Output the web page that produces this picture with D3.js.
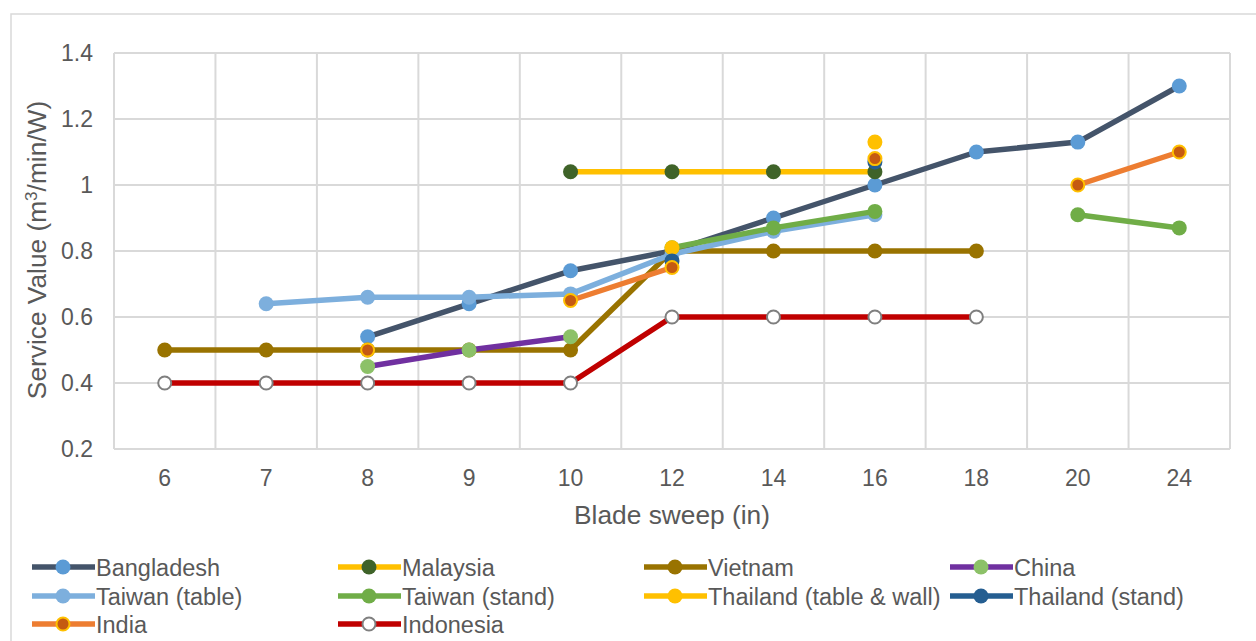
<!DOCTYPE html>
<html>
<head>
<meta charset="utf-8">
<script src="https://cdn.jsdelivr.net/npm/d3@7/dist/d3.min.js"></script>
<style>
  html, body { margin: 0; padding: 0; background: #ffffff; }
  svg { display: block; font-family: "Liberation Sans", Arial, sans-serif; }
</style>
</head>
<body>
<svg id="chart" width="1256" height="641"></svg>
<script>
// ---- data ----
const categories = ["6", "7", "8", "9", "10", "12", "14", "16", "18", "20", "24"];
const yTicks = [0.2, 0.4, 0.6, 0.8, 1.0, 1.2, 1.4];
const yTickLabels = ["0.2", "0.4", "0.6", "0.8", "1", "1.2", "1.4"];

const bangladesh    = [null, null, 0.54, 0.64, 0.74, 0.80, 0.90, 1.00, 1.10, 1.13, 1.30];
const malaysia      = [null, null, null, null, 1.04, 1.04, 1.04, 1.04, null, null, null];
const vietnam       = [0.50, 0.50, 0.50, 0.50, 0.50, 0.80, 0.80, 0.80, 0.80, null, null];
const china         = [null, null, 0.45, 0.50, 0.54, null, null, null, null, null, null];
const taiwanTable   = [null, 0.64, 0.66, 0.66, 0.67, 0.79, 0.86, 0.91, null, null, null];
const taiwanStand   = [null, null, null, null, null, 0.81, 0.87, 0.92, null, 0.91, 0.87];
const thailandTW    = [null, null, null, null, null, 0.81, null, 1.13, null, null, null];
const thailandStand = [null, null, null, null, null, 0.77, null, 1.07, null, null, null];
const india         = [null, null, 0.50, null, 0.65, 0.75, null, 1.08, null, 1.00, 1.10];
const indonesia     = [0.40, 0.40, 0.40, 0.40, 0.40, 0.60, 0.60, 0.60, 0.60, null, null];

const seriesNames = ["Bangladesh", "Malaysia", "Vietnam", "China", "Taiwan (table)",
  "Taiwan (stand)", "Thailand (table & wall)", "Thailand (stand)", "India", "Indonesia"];
const seriesValues = [bangladesh, malaysia, vietnam, china, taiwanTable,
  taiwanStand, thailandTW, thailandStand, india, indonesia];

// ---- styles ----
const styles = [
  { line: "#44546A", fill: "#5B9BD5", stroke: "#5B9BD5" },
  { line: "#FFC000", fill: "#3F6329", stroke: "#3F6329" },
  { line: "#997300", fill: "#997300", stroke: "#997300" },
  { line: "#7030A0", fill: "#8CC168", stroke: "#8CC168" },
  { line: "#7DAFDD", fill: "#7DAFDD", stroke: "#7DAFDD" },
  { line: "#70AD47", fill: "#70AD47", stroke: "#70AD47" },
  { line: "#FFC000", fill: "#FFC000", stroke: "#FFC000" },
  { line: "#255E91", fill: "#255E91", stroke: "#255E91" },
  { line: "#ED7D31", fill: "#C55A11", stroke: "#FFC000" },
  { line: "#C00000", fill: "#FFFFFF", stroke: "#7F7F7F" }
];

const W = 1256, H = 641;
const margin = { left: 114, right: 26, top: 53, bottom: 192 };
const textColor = "#595959";
const gridColor = "#D9D9D9";
const tickFont = 23, titleFont = 26.3, legendFont = 23.5;

const svg = d3.select("#chart");

// outer chart border
svg.append("rect")
  .attr("x", 11).attr("y", 14).attr("width", 1300).attr("height", 700)
  .attr("fill", "#fff").attr("stroke", gridColor).attr("stroke-width", 1.5);

const x = d3.scaleBand().domain(categories)
  .range([margin.left, W - margin.right]).padding(0);
const y = d3.scaleLinear().domain([0.2, 1.4])
  .range([H - margin.bottom, margin.top]);

// grid: horizontal
const g = svg.append("g");
g.selectAll("line.h").data(yTicks).enter().append("line")
  .attr("x1", margin.left).attr("x2", W - margin.right)
  .attr("y1", d => y(d)).attr("y2", d => y(d))
  .attr("stroke", gridColor).attr("stroke-width", 2);
// grid: vertical at category boundaries
const bounds = categories.map(c => x(c)).concat([x(categories[categories.length - 1]) + x.bandwidth()]);
g.selectAll("line.v").data(bounds).enter().append("line")
  .attr("x1", d => d).attr("x2", d => d)
  .attr("y1", margin.top).attr("y2", H - margin.bottom)
  .attr("stroke", gridColor).attr("stroke-width", 2);

// y tick labels
svg.append("g").selectAll("text").data(yTicks).enter().append("text")
  .attr("x", 93).attr("y", d => y(d) + 8)
  .attr("text-anchor", "end")
  .attr("font-size", tickFont).attr("fill", textColor)
  .text((d, i) => yTickLabels[i]);

// x tick labels
svg.append("g").selectAll("text").data(categories).enter().append("text")
  .attr("x", d => x(d) + x.bandwidth() / 2).attr("y", H - margin.bottom + 37)
  .attr("text-anchor", "middle")
  .attr("font-size", tickFont).attr("fill", textColor)
  .text(d => d);

// axis titles
svg.append("text")
  .attr("x", (margin.left + W - margin.right) / 2).attr("y", 524)
  .attr("text-anchor", "middle").attr("font-size", titleFont).attr("fill", textColor)
  .text("Blade sweep (in)");

const yt = svg.append("text")
  .attr("transform", `translate(46,250) rotate(-90)`)
  .attr("text-anchor", "middle").attr("font-size", titleFont).attr("fill", textColor);
yt.append("tspan").text("Service Value (m");
yt.append("tspan").attr("baseline-shift", "super").attr("font-size", 17).text("3");
yt.append("tspan").text("/min/W)");

// series
const line = d3.line()
  .defined(d => d.v !== null)
  .x(d => x(d.c) + x.bandwidth() / 2)
  .y(d => y(d.v));

const plot = svg.append("g");
seriesValues.forEach((vals, si) => {
  const st = styles[si];
  const pts = categories.map((c, i) => ({ c: c, v: vals[i] }));
  plot.append("path")
    .attr("d", line(pts))
    .attr("fill", "none").attr("stroke", st.line)
    .attr("stroke-width", 5.5).attr("stroke-linejoin", "round");
  plot.selectAll(null).data(pts.filter(d => d.v !== null)).enter().append("circle")
    .attr("cx", d => x(d.c) + x.bandwidth() / 2)
    .attr("cy", d => y(d.v))
    .attr("r", (st.stroke !== st.fill) ? 6.5 : 7.5)
    .attr("fill", st.fill)
    .attr("stroke", st.stroke)
    .attr("stroke-width", (st.stroke !== st.fill) ? 2 : 0);
});

// legend
const colX = [96, 402, 708, 1014];
const rowY = [567, 596, 624];
seriesNames.forEach((name, i) => {
  const st = styles[i];
  const tx = colX[i % 4], cy = rowY[Math.floor(i / 4)];
  const lg = svg.append("g");
  lg.append("line")
    .attr("x1", tx - 64).attr("x2", tx - 1).attr("y1", cy).attr("y2", cy)
    .attr("stroke", st.line).attr("stroke-width", 5.5);
  lg.append("circle")
    .attr("cx", tx - 33).attr("cy", cy)
    .attr("r", (st.stroke !== st.fill) ? 6.5 : 7.5)
    .attr("fill", st.fill).attr("stroke", st.stroke)
    .attr("stroke-width", (st.stroke !== st.fill) ? 2 : 0);
  lg.append("text")
    .attr("x", tx).attr("y", cy + 8.5)
    .attr("font-size", legendFont).attr("fill", textColor)
    .text(name);
});
</script>
</body>
</html>
